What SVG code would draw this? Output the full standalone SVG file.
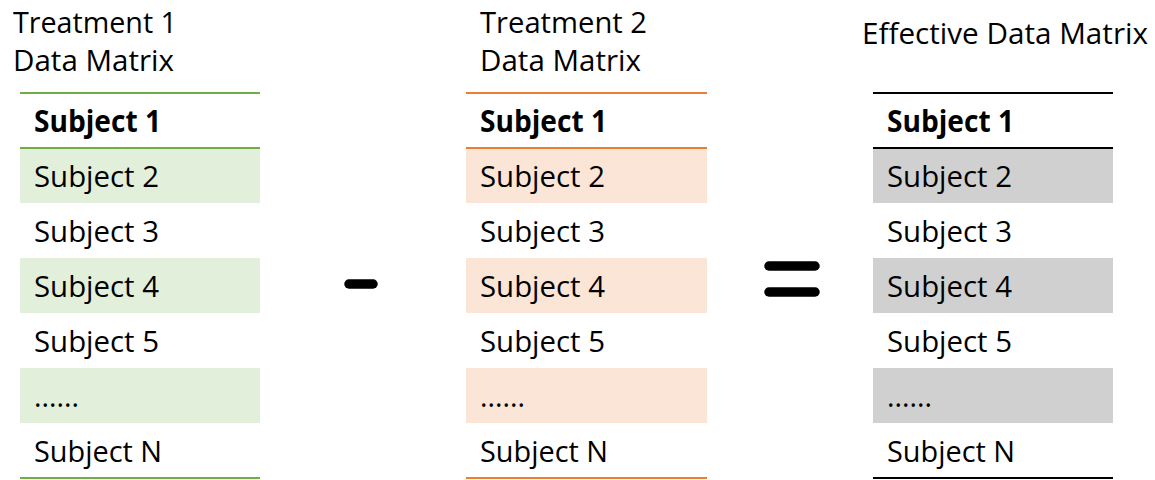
<svg xmlns="http://www.w3.org/2000/svg" width="1155" height="480" viewBox="0 0 1155 480">
<style>
text{font-family:"Open Sans","Liberation Sans",sans-serif;font-size:29.5px;fill:#000}
.b{font-weight:bold}
.g{fill:#e2efda}
.o{fill:#fbe5d6}
.k{fill:#d0d0d0}
.lg{stroke:#70ad47;stroke-width:2}
.lo{stroke:#ed7d31;stroke-width:2}
.lk{stroke:#000;stroke-width:2}
.op{stroke:#000;stroke-width:9.5;stroke-linecap:round}
</style>
<rect width="1155" height="480" fill="#fff"/>
<g id="table1">
<text x="13" y="33" textLength="164" lengthAdjust="spacingAndGlyphs">Treatment 1</text>
<text x="13" y="71" textLength="161" lengthAdjust="spacingAndGlyphs">Data Matrix</text>
<rect class="g" x="20" y="148" width="240" height="55"/>
<rect class="g" x="20" y="258" width="240" height="55"/>
<rect class="g" x="20" y="368" width="240" height="55"/>
<line class="lg" x1="20" y1="93" x2="260" y2="93"/>
<line class="lg" x1="20" y1="148" x2="260" y2="148"/>
<line class="lg" x1="20" y1="478" x2="260" y2="478"/>
<text class="b" x="34" y="132" textLength="127" lengthAdjust="spacingAndGlyphs">Subject 1</text>
<text x="34" y="187" textLength="125" lengthAdjust="spacingAndGlyphs">Subject 2</text>
<text x="34" y="242" textLength="125" lengthAdjust="spacingAndGlyphs">Subject 3</text>
<text x="34" y="297" textLength="125" lengthAdjust="spacingAndGlyphs">Subject 4</text>
<text x="34" y="352" textLength="125" lengthAdjust="spacingAndGlyphs">Subject 5</text>
<text x="34" y="407" textLength="45" lengthAdjust="spacingAndGlyphs">......</text>
<text x="34" y="462" textLength="128" lengthAdjust="spacingAndGlyphs">Subject N</text>
</g>
<g id="table2">
<text x="480" y="33" textLength="167" lengthAdjust="spacingAndGlyphs">Treatment 2</text>
<text x="480" y="71" textLength="161" lengthAdjust="spacingAndGlyphs">Data Matrix</text>
<rect class="o" x="466" y="148" width="241" height="55"/>
<rect class="o" x="466" y="258" width="241" height="55"/>
<rect class="o" x="466" y="368" width="241" height="55"/>
<line class="lo" x1="466" y1="93" x2="707" y2="93"/>
<line class="lo" x1="466" y1="148" x2="707" y2="148"/>
<line class="lo" x1="466" y1="478" x2="707" y2="478"/>
<text class="b" x="480" y="132" textLength="127" lengthAdjust="spacingAndGlyphs">Subject 1</text>
<text x="480" y="187" textLength="125" lengthAdjust="spacingAndGlyphs">Subject 2</text>
<text x="480" y="242" textLength="125" lengthAdjust="spacingAndGlyphs">Subject 3</text>
<text x="480" y="297" textLength="125" lengthAdjust="spacingAndGlyphs">Subject 4</text>
<text x="480" y="352" textLength="125" lengthAdjust="spacingAndGlyphs">Subject 5</text>
<text x="480" y="407" textLength="45" lengthAdjust="spacingAndGlyphs">......</text>
<text x="480" y="462" textLength="128" lengthAdjust="spacingAndGlyphs">Subject N</text>
</g>
<g id="table3">
<text x="862" y="44" textLength="286" lengthAdjust="spacingAndGlyphs">Effective Data Matrix</text>
<rect class="k" x="873" y="148" width="240" height="55"/>
<rect class="k" x="873" y="258" width="240" height="55"/>
<rect class="k" x="873" y="368" width="240" height="55"/>
<line class="lk" x1="873" y1="93" x2="1113" y2="93"/>
<line class="lk" x1="873" y1="148" x2="1113" y2="148"/>
<line class="lk" x1="873" y1="478" x2="1113" y2="478"/>
<text class="b" x="887" y="132" textLength="127" lengthAdjust="spacingAndGlyphs">Subject 1</text>
<text x="887" y="187" textLength="125" lengthAdjust="spacingAndGlyphs">Subject 2</text>
<text x="887" y="242" textLength="125" lengthAdjust="spacingAndGlyphs">Subject 3</text>
<text x="887" y="297" textLength="125" lengthAdjust="spacingAndGlyphs">Subject 4</text>
<text x="887" y="352" textLength="125" lengthAdjust="spacingAndGlyphs">Subject 5</text>
<text x="887" y="407" textLength="45" lengthAdjust="spacingAndGlyphs">......</text>
<text x="887" y="462" textLength="128" lengthAdjust="spacingAndGlyphs">Subject N</text>
</g>
<g id="operators">
<line class="op" x1="349" y1="284" x2="373" y2="284"/>
<line class="op" x1="769" y1="266" x2="815" y2="266"/>
<line class="op" x1="769" y1="292" x2="815" y2="292"/>
</g>
</svg>
